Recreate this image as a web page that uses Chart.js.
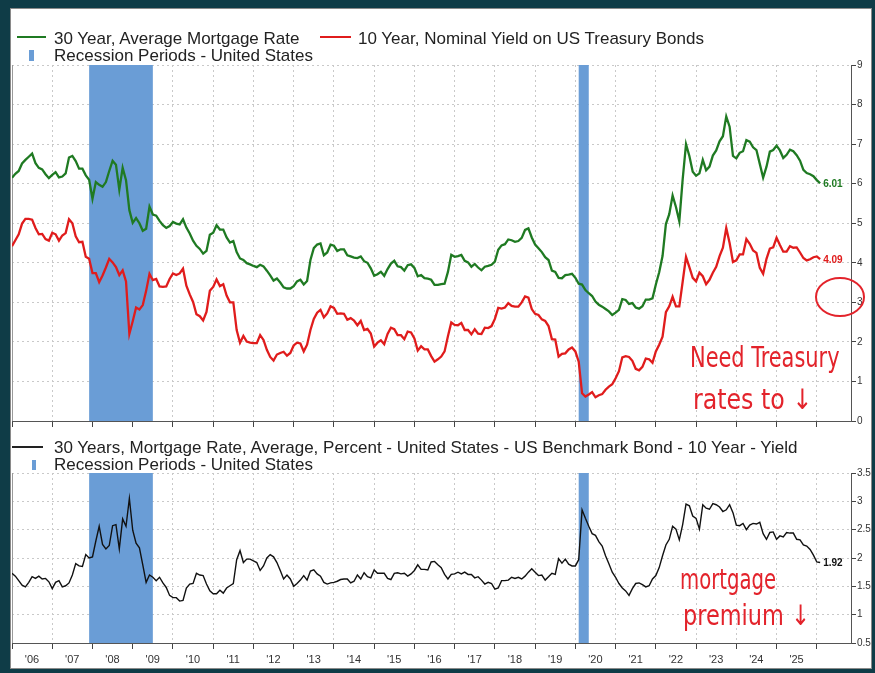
<!DOCTYPE html>
<html><head><meta charset="utf-8">
<script src="https://cdn.jsdelivr.net/npm/chart.js@4.4.1/dist/chart.umd.min.js"></script>
<style>
html,body{margin:0;padding:0;}
body{width:875px;height:673px;background:#0f3c47;position:relative;overflow:hidden;font-family:"Liberation Sans",Arial,sans-serif;}
#panel{position:absolute;left:10px;top:8px;width:862px;height:661px;background:#fff;border:1px solid #8a8a8a;box-sizing:border-box;}
canvas{position:absolute;left:0;}
#c1{top:0;} #c2{top:430px;}
.lg{position:absolute;font-size:17px;color:#222;white-space:nowrap;line-height:17px;}
.ln{position:absolute;height:2px;}
.mk{position:absolute;background:#6a9dd6;}
.hw{position:absolute;color:#e3232b;font-family:"Liberation Sans Narrow","DejaVu Sans Condensed",sans-serif;font-size:28px;line-height:28px;white-space:nowrap;transform-origin:0 0;}
</style></head>
<body>
<div id="panel"></div>
<canvas id="c1" width="875" height="440"></canvas>
<canvas id="c2" width="875" height="243"></canvas>

<div class="ln" style="left:17px;top:36px;width:29px;background:#1f7a22;"></div>
<div class="lg" style="left:54px;top:30px;">30 Year, Average Mortgage Rate</div>
<div class="ln" style="left:320px;top:36px;width:31px;background:#e01c1c;"></div>
<div class="lg" style="left:358px;top:30px;">10 Year, Nominal Yield on US Treasury Bonds</div>
<div class="mk" style="left:29px;top:50px;width:5px;height:11px;"></div>
<div class="lg" style="left:54px;top:47px;">Recession Periods - United States</div>

<div class="ln" style="left:12px;top:446px;width:31px;height:1.5px;background:#222;"></div>
<div class="lg" style="left:54px;top:439px;">30 Years, Mortgage Rate, Average, Percent - United States - US Benchmark Bond - 10 Year - Yield</div>
<div class="mk" style="left:32px;top:460px;width:4px;height:10px;"></div>
<div class="lg" style="left:54px;top:456px;">Recession Periods - United States</div>

<div class="hw" style="left:690px;top:344px;transform:scaleX(0.83);">Need Treasury</div>
<div class="hw" style="left:693px;top:386px;transform:scaleX(0.94);">rates to ↓</div>
<div class="hw" style="left:680px;top:566px;transform:scaleX(0.78);">mortgage</div>
<div class="hw" style="left:683px;top:602px;transform:scaleX(0.89);">premium ↓</div>
<svg style="position:absolute;left:0;top:0;" width="875" height="673"><ellipse cx="840" cy="297" rx="24" ry="19" fill="none" stroke="#e3232b" stroke-width="2"/></svg>

<script>
// ---- data (monthly, Jan 2006 .. Feb 2026) ----
const startYear = 2006;
const mortgageRate = [
6.15,6.25,6.32,6.51,6.60,6.68,6.76,6.52,6.40,6.36,6.24,6.14,
6.22,6.29,6.16,6.18,6.26,6.66,6.70,6.57,6.38,6.38,6.21,6.10,
5.62,6.04,5.97,5.92,6.04,6.32,6.58,6.48,5.85,6.40,6.09,5.33,
5.01,5.13,5.00,4.81,4.86,5.42,5.22,5.19,5.06,4.95,4.88,4.93,
5.03,4.99,4.97,5.10,4.89,4.74,4.56,4.43,4.35,4.23,4.30,4.71,
4.76,4.95,4.84,4.84,4.64,4.51,4.55,4.27,4.11,4.07,3.99,3.96,
3.92,3.89,3.95,3.91,3.80,3.68,3.55,3.60,3.50,3.38,3.35,3.35,
3.41,3.53,3.57,3.45,3.54,4.07,4.37,4.46,4.49,4.19,4.26,4.46,
4.43,4.30,4.34,4.34,4.19,4.16,4.13,4.12,4.16,4.04,4.00,3.86,
3.67,3.71,3.77,3.67,3.84,3.98,4.05,3.91,3.89,3.80,3.94,3.96,
3.87,3.66,3.69,3.61,3.60,3.57,3.44,3.44,3.46,3.47,3.77,4.20,
4.15,4.17,4.20,4.05,4.01,3.90,3.97,3.88,3.81,3.90,3.92,3.95,
4.03,4.33,4.44,4.47,4.59,4.57,4.53,4.55,4.63,4.83,4.87,4.64,
4.46,4.37,4.27,4.14,4.07,3.80,3.77,3.62,3.61,3.69,3.70,3.72,
3.62,3.47,3.45,3.31,3.23,3.16,3.02,2.94,2.89,2.83,2.77,2.68,
2.74,2.81,3.08,3.06,2.96,2.98,2.87,2.84,2.90,3.07,3.07,3.10,
3.45,3.76,4.17,4.98,5.23,5.70,5.41,5.05,6.11,7.00,6.70,6.30,
6.20,6.26,6.60,6.34,6.43,6.71,6.84,7.07,7.20,7.70,7.44,6.70,
6.64,6.78,6.82,7.10,7.06,6.92,6.85,6.50,6.15,6.43,6.81,6.85,
6.96,6.84,6.65,6.73,6.86,6.82,6.72,6.58,6.35,6.27,6.24,6.19,
6.09,6.01];
const treasuryYield = [
4.42,4.57,4.72,4.99,5.11,5.11,5.09,4.88,4.72,4.73,4.60,4.56,
4.76,4.72,4.56,4.69,4.75,5.10,5.00,4.67,4.52,4.53,4.15,4.10,
3.74,3.74,3.51,3.68,3.88,4.10,4.01,3.89,3.69,3.81,3.53,2.20,
2.52,2.87,2.82,2.93,3.29,3.72,3.56,3.59,3.40,3.39,3.40,3.59,
3.73,3.69,3.73,3.85,3.42,3.20,3.01,2.70,2.65,2.54,2.76,3.29,
3.39,3.58,3.41,3.46,3.17,3.00,3.00,2.30,1.98,2.15,2.01,1.98,
1.97,1.97,2.17,2.05,1.80,1.62,1.53,1.68,1.72,1.75,1.65,1.72,
1.91,1.98,1.96,1.76,1.93,2.30,2.58,2.74,2.81,2.62,2.72,2.90,
2.86,2.71,2.72,2.71,2.56,2.60,2.54,2.42,2.53,2.30,2.33,2.21,
1.88,1.98,2.04,1.94,2.20,2.36,2.32,2.17,2.17,2.07,2.26,2.24,
2.09,1.78,1.89,1.81,1.81,1.64,1.50,1.56,1.63,1.76,2.14,2.49,
2.43,2.42,2.48,2.30,2.30,2.19,2.32,2.21,2.20,2.36,2.35,2.40,
2.58,2.86,2.84,2.87,2.98,2.91,2.89,2.89,3.00,3.15,3.12,2.83,
2.71,2.68,2.57,2.53,2.40,2.07,2.06,1.63,1.70,1.71,1.81,1.86,
1.76,1.50,0.70,0.62,0.67,0.73,0.60,0.65,0.68,0.79,0.87,0.93,
1.08,1.26,1.61,1.64,1.62,1.52,1.32,1.28,1.37,1.58,1.56,1.47,
1.76,1.93,2.13,2.75,2.90,3.14,2.90,2.90,3.52,4.15,3.89,3.62,
3.53,3.75,3.66,3.46,3.57,3.75,3.90,4.17,4.38,4.88,4.50,4.02,
4.06,4.21,4.21,4.60,4.48,4.31,4.25,3.87,3.72,4.10,4.36,4.39,
4.63,4.45,4.28,4.28,4.42,4.38,4.39,4.26,4.12,4.06,4.09,4.14,
4.16,4.09];
const mortgageSpread = [
1.73,1.68,1.60,1.52,1.49,1.57,1.67,1.64,1.68,1.63,1.64,1.58,
1.46,1.57,1.60,1.49,1.51,1.56,1.70,1.90,1.86,1.85,2.06,2.00,
2.02,2.30,2.56,2.24,2.16,2.22,2.57,2.59,2.16,2.69,2.56,3.05,
2.49,2.26,2.18,1.88,1.57,1.70,1.66,1.60,1.66,1.56,1.48,1.34,
1.30,1.30,1.24,1.25,1.47,1.54,1.55,1.73,1.70,1.69,1.54,1.42,
1.37,1.37,1.43,1.38,1.47,1.51,1.55,1.97,2.13,1.92,1.98,1.98,
1.95,1.92,1.78,1.86,2.00,2.06,2.02,1.92,1.78,1.63,1.70,1.63,
1.50,1.55,1.61,1.69,1.61,1.77,1.79,1.72,1.68,1.57,1.54,1.56,
1.57,1.59,1.62,1.63,1.63,1.56,1.59,1.70,1.63,1.74,1.67,1.65,
1.79,1.73,1.73,1.73,1.64,1.62,1.73,1.74,1.72,1.73,1.68,1.72,
1.78,1.88,1.80,1.80,1.79,1.93,1.94,1.88,1.83,1.71,1.63,1.71,
1.72,1.75,1.72,1.75,1.71,1.71,1.65,1.67,1.61,1.54,1.57,1.55,
1.45,1.47,1.60,1.60,1.61,1.66,1.64,1.66,1.63,1.68,1.75,1.81,
1.75,1.69,1.70,1.61,1.67,1.73,1.71,1.99,1.91,1.98,1.89,1.86,
1.86,1.97,2.85,2.70,2.56,2.43,2.40,2.29,2.21,2.04,1.90,1.75,
1.66,1.55,1.47,1.42,1.34,1.46,1.55,1.56,1.53,1.49,1.51,1.63,
1.69,1.83,2.04,2.23,2.33,2.56,2.51,2.32,2.59,2.95,2.92,2.74,
2.70,2.51,2.94,2.88,2.86,2.96,2.94,2.90,2.82,2.85,2.94,2.80,
2.58,2.57,2.61,2.50,2.58,2.61,2.60,2.63,2.43,2.33,2.45,2.46,
2.33,2.39,2.37,2.45,2.44,2.44,2.33,2.32,2.23,2.21,2.15,2.05,
1.93,1.92];
const recessionStart = [2007.917, 2020.083];
const recessionEnd   = [2009.5,   2020.333];
const yearTicks  = [2006,2007,2008,2009,2010,2011,2012,2013,2014,2015,2016,2017,2018,2019,2020,2021,2022,2023,2024,2025,2026];
const yearLabels = ["'06","'07","'08","'09","'10","'11","'12","'13","'14","'15","'16","'17","'18","'19","'20","'21","'22","'23","'24","'25",""];
const topTicks = [0,1,2,3,4,5,6,7,8,9];
const topTickLabels = ["0","1","2","3","4","5","6","7","8","9"];
const bottomTicks = [0.5,1,1.5,2,2.5,3,3.5];
const bottomTickLabels = ["0.5","1","1.5","2","2.5","3","3.5"];

// ---- chart ----
const X_MIN = 2006, X_MAX = 2026.85;
const FONT = '"Liberation Sans", Arial, sans-serif';
Chart.defaults.font.family = FONT;
Chart.defaults.animation = false;

const toPts = arr => arr.map((v, i) => ({x: startYear + i / 12, y: v}));

const recessPlugin = {
  id: 'recess',
  beforeDatasetsDraw(chart) {
    const {ctx, chartArea: a, scales: {x}} = chart;
    ctx.save();
    ctx.fillStyle = '#6a9dd6';
    for (let i = 0; i < recessionStart.length; i++) {
      const x0 = x.getPixelForValue(recessionStart[i]);
      const x1 = x.getPixelForValue(recessionEnd[i]);
      ctx.fillRect(x0, a.top, x1 - x0, a.bottom - a.top);
    }
    ctx.strokeStyle = '#9a9a9a'; ctx.lineWidth = 1;
    ctx.beginPath(); ctx.moveTo(a.left + 0.5, a.top); ctx.lineTo(a.left + 0.5, a.bottom); ctx.stroke();
    ctx.restore();
  },
  afterDatasetsDraw(chart) {
    const ctx = chart.ctx;
    ctx.save();
    ctx.font = 'bold 10px ' + FONT;
    ctx.textBaseline = 'middle';
    ctx.textAlign = 'left';
    chart.data.datasets.forEach((ds, i) => {
      const meta = chart.getDatasetMeta(i);
      const p = meta.data[meta.data.length - 1];
      const v = ds.data[ds.data.length - 1].y;
      ctx.fillStyle = ds.borderColor;
      ctx.fillText(v.toFixed(2), p.x + 3, p.y + 1);
    });
    ctx.restore();
  }
};

function xScale(showLabels, height) {
  return {
    type: 'linear', position: 'bottom', min: X_MIN, max: X_MAX,
    afterBuildTicks: s => { s.ticks = yearTicks.map(v => ({value: v})); },
    ticks: {display: showLabels, autoSkip: false, maxRotation: 0, labelOffset: 20, padding: 4,
            color: '#333', font: {size: 11}, callback: (v, i) => yearLabels[i]},
    grid: {color: '#c9c9c9', lineWidth: 1, drawTicks: true, tickLength: 6, tickColor: '#444'},
    border: {display: true, color: '#555', width: 1, dash: [2, 3]},
    afterFit: s => { s.height = height; }
  };
}
function yScale(min, max, ticks, labels) {
  return {
    type: 'linear', position: 'right', min: min, max: max,
    afterBuildTicks: s => { s.ticks = ticks.map(v => ({value: v})); },
    ticks: {color: '#333', font: {size: 10}, padding: 1, callback: (v, i) => labels[i]},
    grid: {color: '#c9c9c9', lineWidth: 1, tickLength: 5, tickColor: '#444'},
    border: {display: true, color: '#555', width: 1, dash: [2, 3]},
    afterFit: s => { s.width = 22; }
  };
}

new Chart(document.getElementById('c1'), {
  type: 'line',
  data: {datasets: [
    {label: '30 Year, Average Mortgage Rate', data: toPts(mortgageRate), borderColor: '#1f7a22', borderWidth: 2.3, pointRadius: 0, tension: 0},
    {label: '10 Year, Nominal Yield on US Treasury Bonds', data: toPts(treasuryYield), borderColor: '#e01c1c', borderWidth: 2.3, pointRadius: 0, tension: 0}
  ]},
  options: {
    responsive: false, devicePixelRatio: 1,
    layout: {padding: {left: 12, top: 65, right: 2, bottom: 13}},
    plugins: {legend: {display: false}, tooltip: {enabled: false}},
    scales: {x: xScale(false, 6), y: yScale(0, 9, topTicks, topTickLabels)}
  },
  plugins: [recessPlugin]
});

new Chart(document.getElementById('c2'), {
  type: 'line',
  data: {datasets: [
    {label: '30 Years, Mortgage Rate, Average, Percent - United States - US Benchmark Bond - 10 Year - Yield', data: toPts(mortgageSpread), borderColor: '#111111', borderWidth: 1.4, pointRadius: 0, tension: 0}
  ]},
  options: {
    responsive: false, devicePixelRatio: 1,
    layout: {padding: {left: 12, top: 43, right: 2, bottom: 5}},
    plugins: {legend: {display: false}, tooltip: {enabled: false}},
    scales: {x: xScale(true, 25), y: yScale(0.5, 3.5, bottomTicks, bottomTickLabels)}
  },
  plugins: [recessPlugin]
});
</script>
</body></html>
